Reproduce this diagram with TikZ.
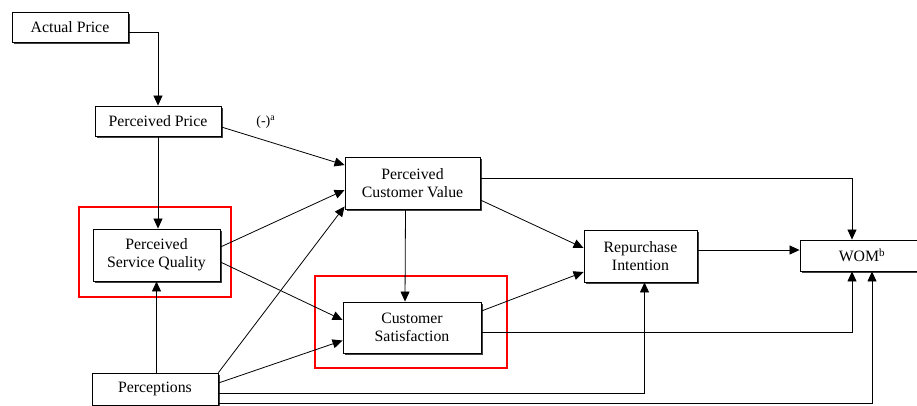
\documentclass[tikz,border=0pt]{standalone}
\usepackage{fontspec}
\setmainfont{Liberation Serif}
\usetikzlibrary{arrows.meta,shadows}

\begin{document}
\begin{tikzpicture}[x=1pt,y=-1pt,
  box/.style={draw, line width=0.9pt, fill=white, align=center, inner sep=0pt,
    font=\fontsize{15.8}{18}\selectfont,
    drop shadow={shadow xshift=2pt, shadow yshift=-2pt, fill=black!75, opacity=1}},
  link/.style={line width=0.8pt, -{Triangle[length=10pt,width=9pt]}},
  focus/.style={draw=red, line width=2.6pt}]

\useasboundingbox (0,0) rectangle (917,405);
\clip (0,0) rectangle (917,405);

% constructs
\node[box, minimum width=116pt, minimum height=30pt] (ap)  at (70,27)      {Actual Price};
\node[box, minimum width=126pt, minimum height=30pt] (pp)  at (158,121)    {Perceived Price};
\node[box, minimum width=127pt, minimum height=52pt] (psq) at (156.5,255)  {Perceived\\Service Quality};
\node[box, minimum width=126pt, minimum height=32pt] (per) at (155,389)    {Perceptions};
\node[box, minimum width=135pt, minimum height=52pt] (pcv) at (412.5,183)  {Perceived\\Customer Value};
\node[box, minimum width=138pt, minimum height=51pt] (cs)  at (412,327.5)  {Customer\\Satisfaction};
\node[box, minimum width=113pt, minimum height=52pt] (ri)  at (640.5,256)  {Repurchase\\Intention};
\node[box, minimum width=124pt, minimum height=31pt] (wom) at (862,255.5)  {WOM\textsuperscript{b}};

% highlighted constructs
\draw[focus] (79,207) rectangle (231,297);
\draw[focus] (315,276) rectangle (507,368);

% paths
\draw[link] ([yshift=-5pt]ap.east) -| (pp.north);
\draw[link] ([yshift=-6pt]pp.east) -- ([yshift=18pt]pcv.west)
  node[pos=0.36, above=8pt, font=\fontsize{14}{16}\selectfont] {(-)\textsuperscript{a}};
\draw[link] (pp.south) -- (pp.south |- psq.north);
\draw[link] ([yshift=8pt]psq.east) -- ([yshift=-7pt]pcv.west);
\draw[link] ([yshift=-7pt]psq.east) -- ([yshift=7.5pt]cs.west);
\draw[link] (per.north -| psq.south) -- (psq.south);
\draw[link] (per.north east) -- ([yshift=3pt]pcv.south west);
\draw[link] ([yshift=6pt]per.east) -- ([yshift=-13pt]cs.west);
\draw[link] ([yshift=-4pt]per.east) -| ([xshift=4pt]ri.south);
\draw[link] ([yshift=-14pt]per.east) -| ([xshift=10pt]wom.south);
\draw[link] ([yshift=5pt]pcv.east) -| ([xshift=-10pt]wom.north);
\draw[link] ([yshift=-17pt]pcv.east) -- ([yshift=8pt]ri.west);
\draw[link] ([xshift=-7pt]pcv.south) -- ([xshift=-7pt]cs.north);
\draw[link] ([yshift=16.5pt]cs.east) -- ([yshift=-16pt]ri.west);
\draw[link] ([yshift=-4.5pt]cs.east) -| ([xshift=-10pt]wom.south);
\draw[link] ([yshift=6pt]ri.east) -- ([yshift=6pt]ri.east -| wom.west);
\end{tikzpicture}
\end{document}
